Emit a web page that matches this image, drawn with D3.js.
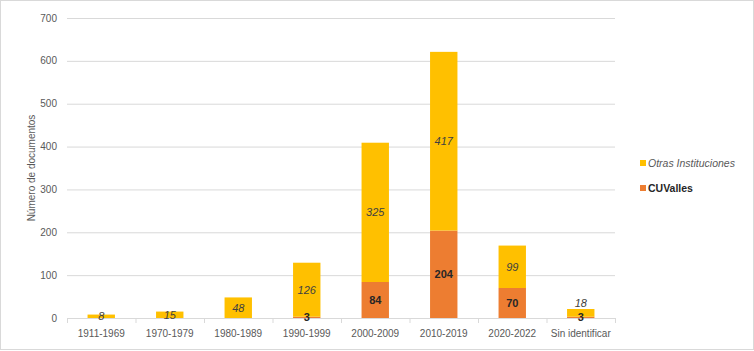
<!DOCTYPE html>
<html>
<head>
<meta charset="utf-8">
<script src="https://cdn.jsdelivr.net/npm/d3@7"></script>
<style>
  html, body { margin: 0; padding: 0; background: #fff; }
  svg { display: block; font-family: "Liberation Sans Narrow", "Liberation Sans", "DejaVu Sans Condensed", sans-serif; }
</style>
</head>
<body>
<div id="chart"></div>
<script>
// Periods on the x axis
const periods = ['1911-1969', '1970-1979', '1980-1989', '1990-1999', '2000-2009', '2010-2019', '2020-2022', 'Sin identificar'];
// CUValles documents (bottom segment)
const cuvalles = [0, 0, 0, 3, 84, 204, 70, 3];
// Otras Instituciones documents (top segment)
const otras = [8, 15, 48, 126, 325, 417, 99, 18];
const yTicks = [0, 100, 200, 300, 400, 500, 600, 700];

const W = 754, H = 351;
const margin = { top: 18, right: 139, bottom: 33, left: 67 };
const width = W - margin.left - margin.right;
const height = H - margin.top - margin.bottom;

const colors = { otras: '#FFC000', cuvalles: '#ED7D31', grid: '#d9d9d9', text: '#595959' };

const svg = d3.select('#chart').append('svg')
  .attr('width', W)
  .attr('height', H);

// outer frame
svg.append('rect')
  .attr('x', 0.5).attr('y', 0.5)
  .attr('width', W - 1).attr('height', H - 2)
  .attr('fill', 'none')
  .attr('stroke', '#d9d9d9');

const g = svg.append('g').attr('transform', `translate(${margin.left},${margin.top})`);

const x = d3.scaleBand().domain(periods).range([0, width]).paddingInner(0.6).paddingOuter(0.3);
const xOuter = d3.scaleBand().domain(periods).range([0, width]);
const y = d3.scaleLinear().domain([0, 700]).range([height, 0]);

// gridlines
g.selectAll('.grid').data(yTicks.filter(d => d > 0)).enter()
  .append('line')
  .attr('x1', 0).attr('x2', width)
  .attr('y1', d => y(d) + 0.5).attr('y2', d => y(d) + 0.5)
  .attr('stroke', colors.grid);

// y tick labels
g.selectAll('.ytick').data(yTicks).enter()
  .append('text')
  .attr('x', -10).attr('y', d => y(d))
  .attr('dy', '0.35em')
  .attr('text-anchor', 'end')
  .attr('font-size', 10)
  .attr('fill', colors.text)
  .text(d => d);

// y axis title
svg.append('text')
  .attr('transform', `translate(35,${margin.top + height / 2}) rotate(-90)`)
  .attr('text-anchor', 'middle')
  .attr('font-size', 10)
  .attr('fill', colors.text)
  .text('Número de documentos');

const data = periods.map((p, i) => ({ period: p, cuvalles: cuvalles[i], otras: otras[i] }));
const stack = d3.stack().keys(['cuvalles', 'otras'])(data);

g.selectAll('.layer').data(stack).enter()
  .append('g')
  .attr('fill', d => d.key === 'otras' ? colors.otras : colors.cuvalles)
  .selectAll('rect').data(d => d).enter()
  .append('rect')
  .attr('x', d => x(d.data.period))
  .attr('width', x.bandwidth())
  .attr('y', d => y(d[1]))
  .attr('height', d => y(d[0]) - y(d[1]));

// x axis line + ticks
g.append('line')
  .attr('x1', 0).attr('x2', width)
  .attr('y1', height + 0.5).attr('y2', height + 0.5)
  .attr('stroke', colors.grid);
g.selectAll('.xtickmark').data(d3.range(periods.length + 1)).enter()
  .append('line')
  .attr('x1', i => i * xOuter.step() + 0.5).attr('x2', i => i * xOuter.step() + 0.5)
  .attr('y1', height).attr('y2', height + 5)
  .attr('stroke', colors.grid);

g.selectAll('.xlabel').data(periods).enter()
  .append('text')
  .attr('x', d => xOuter(d) + xOuter.bandwidth() / 2)
  .attr('y', height + 19)
  .attr('text-anchor', 'middle')
  .attr('font-size', 10)
  .attr('fill', colors.text)
  .text(d => d);

// value labels - Otras (italic)
g.selectAll('.lblOtras').data(stack[1]).enter()
  .append('text')
  .attr('x', d => x(d.data.period) + x.bandwidth() / 2)
  .attr('y', d => d.data.period === 'Sin identificar' ? y(d[1]) - 6 : y((d[0] + d[1]) / 2))
  .attr('dy', '0.35em')
  .attr('text-anchor', 'middle')
  .attr('font-size', 11)
  .attr('font-style', 'italic')
  .attr('fill', '#404040')
  .text(d => d.data.otras);

// value labels - CUValles (bold)
g.selectAll('.lblCu').data(stack[0].filter(d => d.data.cuvalles > 0)).enter()
  .append('text')
  .attr('x', d => x(d.data.period) + x.bandwidth() / 2)
  .attr('y', d => d.data.cuvalles < 10 ? height - 1 : y((d[0] + d[1]) / 2))
  .attr('dy', '0.35em')
  .attr('text-anchor', 'middle')
  .attr('font-size', 11)
  .attr('font-weight', 'bold')
  .attr('fill', '#262626')
  .text(d => d.data.cuvalles);

// legend
const legend = svg.append('g').attr('transform', 'translate(640,0)');
const legendItems = [
  { name: 'Otras Instituciones', color: colors.otras, y: 163, style: 'italic', weight: 'normal' },
  { name: 'CUValles', color: colors.cuvalles, y: 188, style: 'normal', weight: 'bold' }
];
legendItems.forEach(it => {
  legend.append('rect')
    .attr('x', 0).attr('y', it.y - 3)
    .attr('width', 6).attr('height', 6)
    .attr('fill', it.color);
  legend.append('text')
    .attr('x', 8).attr('y', it.y)
    .attr('dy', '0.35em')
    .attr('font-size', 10.5)
    .attr('font-style', it.style)
    .attr('font-weight', it.weight)
    .attr('fill', it.weight === 'bold' ? '#262626' : colors.text)
    .text(it.name);
});
</script>
</body>
</html>
